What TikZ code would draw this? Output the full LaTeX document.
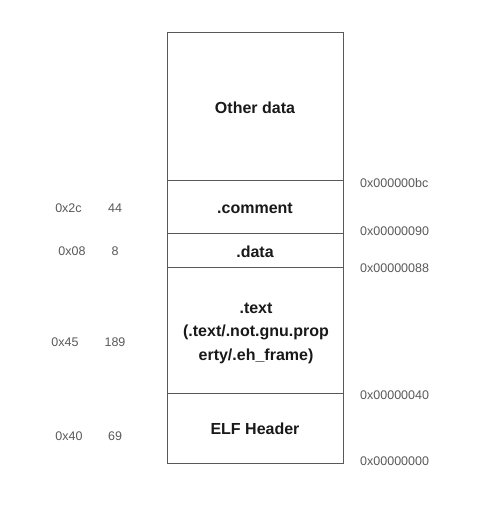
\documentclass[tikz,border=0pt]{standalone}
\usepackage{fontspec}
\setmainfont{Liberation Sans}
\begin{document}
\begin{tikzpicture}[x=1pt,y=-1pt,
  sect/.style={draw=black!65,line width=0.9pt,minimum width=176pt,inner sep=0pt,
    font=\bfseries\fontsize{16}{23.5}\selectfont,align=center,text=black!90},
  lbl/.style={inner sep=0pt,font=\bfseries\fontsize{16}{23.5}\selectfont,align=center,text=black!90},
  addr/.style={anchor=west,inner sep=0pt,text=black!65,font=\fontsize{12.5}{14}\selectfont},
  sz/.style={inner sep=0pt,text=black!65,font=\fontsize{12.5}{14}\selectfont}]
\useasboundingbox (0,0) rectangle (494,505);
\node[sect,minimum height=148pt] (other) at (255,106) {};
\node[sect,minimum height=53pt] (comment) at (255,206.5) {};
\node[sect,minimum height=34pt] (data) at (255,250) {};
\node[sect,minimum height=126pt] (text) at (255,330) {};
\node[sect,minimum height=70pt] (elf) at (255,428) {};
\node[lbl] (tother) at (255,107.5) {Other data};
\node[lbl] (tcomment) at (255,208) {.comment};
\node[lbl] (tdata) at (255,252) {.data};
\node[lbl] (ttext) at (256,333) {.text\\(.text/.not.gnu.prop\\erty/.eh\_frame)};
\node[lbl] (telf) at (255,429) {ELF Header};
\node[addr] (a1) at (360,183) {0x000000bc};
\node[addr] (a2) at (360,231) {0x00000090};
\node[addr] (a3) at (360,268) {0x00000088};
\node[addr] (a4) at (360,395) {0x00000040};
\node[addr] (a5) at (360,461) {0x00000000};
\node[sz] (h1) at (68.5,208) {0x2c};
\node[sz] (d1) at (115,208) {44};
\node[sz] (h2) at (72,251) {0x08};
\node[sz] (d2) at (115,251) {8};
\node[sz] (h3) at (65,342) {0x45};
\node[sz] (d3) at (115,342) {189};
\node[sz] (h4) at (69,436) {0x40};
\node[sz] (d4) at (115,436) {69};
\end{tikzpicture}
\end{document}
